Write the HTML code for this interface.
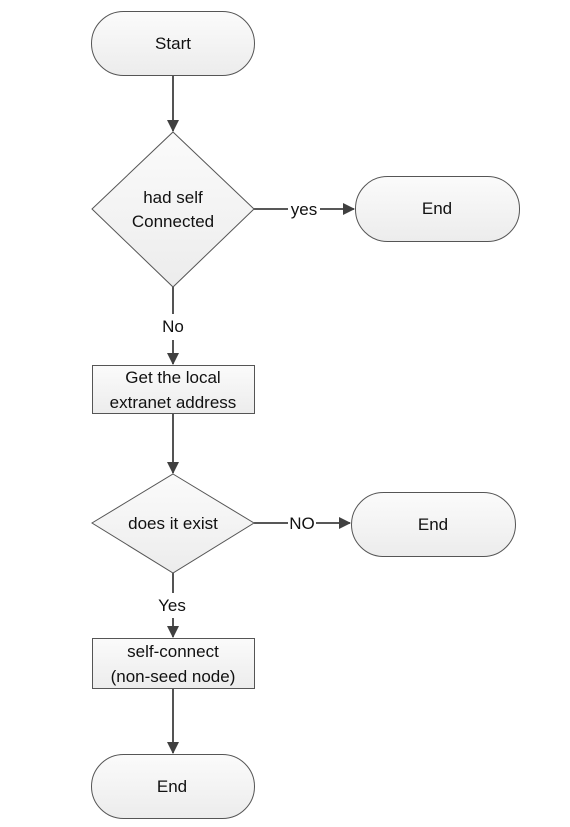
<!DOCTYPE html>
<html><head><meta charset="utf-8"><style>
html,body{margin:0;padding:0;background:#fff;}
svg{display:block;}
text{font-family:"Liberation Sans",sans-serif;font-size:17px;fill:#111;text-anchor:middle;}
</style></head><body>
<svg width="570" height="827" viewBox="0 0 570 827" xmlns="http://www.w3.org/2000/svg">
<defs>
<linearGradient id="g" x1="0" y1="0" x2="0" y2="1">
<stop offset="0" stop-color="#fbfbfb"/><stop offset="1" stop-color="#ececec"/></linearGradient>
<marker id="a" markerWidth="12" markerHeight="12" refX="11" refY="6" orient="auto" markerUnits="userSpaceOnUse">
<path d="M0,0 L12,6 L0,12 z" fill="#404040"/></marker>
</defs>
<g stroke="#404040" stroke-width="1.8" fill="none">
<line x1="173" y1="75" x2="173" y2="131" marker-end="url(#a)"/>
<line x1="254" y1="209" x2="288" y2="209"/>
<line x1="320" y1="209" x2="354" y2="209" marker-end="url(#a)"/>
<line x1="173" y1="287" x2="173" y2="314"/>
<line x1="173" y1="340" x2="173" y2="364" marker-end="url(#a)"/>
<line x1="173" y1="413" x2="173" y2="473" marker-end="url(#a)"/>
<line x1="254" y1="523" x2="288" y2="523"/>
<line x1="316" y1="523" x2="350" y2="523" marker-end="url(#a)"/>
<line x1="173" y1="573" x2="173" y2="593"/>
<line x1="173" y1="618" x2="173" y2="637" marker-end="url(#a)"/>
<line x1="173" y1="688" x2="173" y2="753" marker-end="url(#a)"/>
</g>
<g stroke="#555" stroke-width="1" fill="url(#g)">
<rect x="91.5" y="11.5" width="163" height="64" rx="32"/>
<polygon points="173,132 254,209 173,287 92,209"/>
<rect x="355.5" y="176.5" width="164" height="65" rx="32"/>
<rect x="92.5" y="365.5" width="162" height="48"/>
<polygon points="173,474 254,523 173,573 92,523"/>
<rect x="351.5" y="492.5" width="164" height="64" rx="32"/>
<rect x="92.5" y="638.5" width="162" height="50"/>
<rect x="91.5" y="754.5" width="163" height="64" rx="32"/>
</g>
<text x="173" y="49">Start</text>
<text x="173" y="203">had self</text>
<text x="173" y="227">Connected</text>
<text x="304" y="215">yes</text>
<text x="437" y="214">End</text>
<text x="173" y="332">No</text>
<text x="173" y="383">Get the local</text>
<text x="173" y="408">extranet address</text>
<text x="173" y="529">does it exist</text>
<text x="302" y="529">NO</text>
<text x="433" y="530">End</text>
<text x="172" y="611">Yes</text>
<text x="173" y="657">self-connect</text>
<text x="173" y="682">(non-seed node)</text>
<text x="172" y="792">End</text>
</svg>
</body></html>
